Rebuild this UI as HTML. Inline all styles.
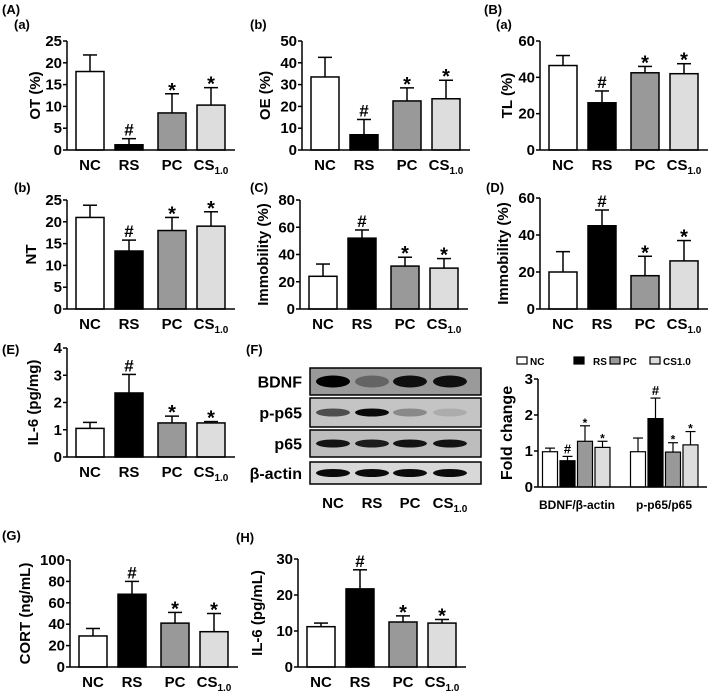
<!DOCTYPE html>
<html><head><meta charset="utf-8"><style>
body{margin:0;background:#fff}
svg text{font-family:"Liberation Sans",Arial,sans-serif;font-weight:bold;fill:#000}
</style></head><body>
<svg id="fig" width="708" height="694" viewBox="0 0 708 694" xmlns="http://www.w3.org/2000/svg">
<g font-size="13">
<text x="2" y="14">(A)</text><text x="14" y="29">(a)</text>
<text x="250" y="29">(b)</text>
<text x="484" y="14">(B)</text><text x="496" y="29">(a)</text>
<text x="14" y="192">(b)</text><text x="250" y="192">(C)</text><text x="486" y="192">(D)</text>
<text x="2" y="354">(E)</text><text x="246" y="354">(F)</text>
<text x="2" y="540">(G)</text><text x="236" y="542">(H)</text>
</g>
<g id="blot"></g>
</svg>
<script>
const groups=["NC","RS","PC","CS"];
const otMean=[18,1.2,8.5,10.3], otErr=[3.8,1.4,4.4,4];
const oeMean=[33.5,7,22.5,23.5], oeErr=[9,7,6,8.5];
const tlMean=[46.5,26,42.5,42], tlErr=[5.5,6.5,3.5,5.5];
const ntMean=[21,13.3,18,19], ntErr=[2.8,2.5,3,3.3];
const fstMean=[24,52,31.5,30], fstErr=[9,6,6.5,7];
const tstMean=[20,45,18,26], tstErr=[11,8.5,10.5,11];
const il6Mean=[1.05,2.35,1.25,1.25], il6Err=[0.22,0.68,0.25,0.05];
const bdnfMean=[0.98,0.73,1.27,1.1], bdnfErr=[0.1,0.12,0.43,0.17];
const pp65Mean=[0.98,1.9,0.97,1.17], pp65Err=[0.38,0.57,0.26,0.37];
const cortMean=[29,68,41,33], cortErr=[7,12,10,17];
const il6sMean=[11.2,21.7,12.5,12.2], il6sErr=[1,5.3,1.7,1];
const marks=["","#","*","*"];
const fills=["#fff","#000","#999","#ddd"];
const NS="http://www.w3.org/2000/svg";
const svg=document.getElementById('fig');
function mk(tag,attrs,parent,txt){const e=document.createElementNS(NS,tag);for(const k in attrs)e.setAttribute(k,attrs[k]);if(txt!==undefined)e.textContent=txt;(parent||svg).appendChild(e);return e;}
function cat(g,x,y,c){
  const t=mk('text',{x:x,y:y,'text-anchor':'middle','font-size':15},g);
  if(c==="CS"){t.textContent="CS";mk('tspan',{dy:4,'font-size':10},t,"1.0");}
  else t.textContent=c;
  
  
}
function panel(name,x0,y0,yTop,max,step,title,means,errs,titleX){
  const g=mk('g',{});
  
  
  const ys=v=>y0-(v/max)*(y0-yTop);
  const offs=[23,62,105,144];const w=28;
  for(let i=0;i<4;i++){
    const cx=x0+offs[i];const top=ys(means[i]);const et=ys(means[i]+errs[i]);
    mk('line',{x1:cx,x2:cx,y1:top,y2:et,stroke:'#000','stroke-width':1.5},g);
    mk('line',{x1:cx-7,x2:cx+7,y1:et,y2:et,stroke:'#000','stroke-width':1.5},g);
    const r=mk('rect',{x:cx-w/2,y:top,width:w,height:y0-top,fill:fills[i],stroke:'#000','stroke-width':1.5},g);
    
    
    if(marks[i]){const m=mk('text',{x:cx,y:et-3+(marks[i]==='*'?6:0),'text-anchor':'middle','font-size':marks[i]==='*'?20:17,'font-weight':'normal'},g,marks[i]);
      }
    cat(g,cx,y0+20,groups[i]);
  }
  mk('line',{x1:x0,x2:x0,y1:yTop,y2:y0,stroke:'#000','stroke-width':1.5},g);
  mk('line',{x1:x0,x2:x0+168,y1:y0,y2:y0,stroke:'#000','stroke-width':1.5},g);
  for(let v=0;v<=max+1e-9;v+=step){const y=ys(v);
    mk('line',{x1:x0-4,x2:x0,y1:y,y2:y,stroke:'#000','stroke-width':1.5},g);
    const t=mk('text',{x:x0-5,y:y+5,'text-anchor':'end','font-size':15},g,String(+v.toFixed(2)));
    }
  const ty=(y0+yTop)/2;
  const tt=mk('text',{x:titleX,y:ty,'text-anchor':'middle','font-size':15,transform:`rotate(-90 ${titleX} ${ty})`},g,title);
  
}
panel('ot',67,150,41,25,5,'OT (%)',otMean,otErr,40);
panel('oe',302,150,41,50,10,'OE (%)',oeMean,oeErr,270);
panel('tl',540,150,41,60,20,'TL (%)',tlMean,tlErr,512);
panel('nt',67,309,200,25,5,'NT',ntMean,ntErr,36);
panel('fst',300,309,200,80,20,'Immobility (%)',fstMean,fstErr,268);
panel('tst',540,309,198,60,20,'Immobility (%)',tstMean,tstErr,508);
panel('il6-hippo',67,457,348,4,1,'IL-6 (pg/mg)',il6Mean,il6Err,38);
panel('cort',70,667,560,100,20,'CORT (ng/mL)',cortMean,cortErr,30);
panel('il6-serum',298,667,559,30,10,'IL-6 (pg/mL)',il6sMean,il6sErr,262);

// fold change chart
(function(){
  const g=mk('g',{});
  
  
  const x0=538,y0=487,yTop=379,max=3;
  const ys=v=>y0-(v/max)*(y0-yTop);
  const sets=[[bdnfMean,bdnfErr,550],[pp65Mean,pp65Err,638]];
  sets.forEach((s,gi)=>{
    for(let i=0;i<4;i++){
      const cx=s[2]+i*17.5,top=ys(s[0][i]),et=ys(s[0][i]+s[1][i]);
      mk('line',{x1:cx,x2:cx,y1:top,y2:et,stroke:'#000','stroke-width':1.2},g);
      mk('line',{x1:cx-5,x2:cx+5,y1:et,y2:et,stroke:'#000','stroke-width':1.2},g);
      const r=mk('rect',{x:cx-7.5,y:top,width:15,height:y0-top,fill:fills[i],stroke:'#000','stroke-width':1.2},g);
      
      
      if(marks[i]){mk('text',{x:cx,y:et-3+(marks[i]==='*'?4:0),'text-anchor':'middle','font-size':marks[i]==='*'?12:13,'font-weight':'normal'},g,marks[i]);}
    }
  });
  mk('line',{x1:x0,x2:707,y1:y0,y2:y0,stroke:'#000','stroke-width':1.5},g);
  mk('line',{x1:x0,x2:x0,y1:yTop,y2:y0,stroke:'#000','stroke-width':1.5},g);
  for(let v=0;v<=max;v++){const y=ys(v);
    mk('line',{x1:x0-4,x2:x0,y1:y,y2:y,stroke:'#000','stroke-width':1.5},g);
    mk('text',{x:x0-5,y:y+5,'text-anchor':'end','font-size':15},g,String(v));}
  mk('text',{x:512,y:433,'text-anchor':'middle','font-size':16,transform:'rotate(-90 512 433)'},g,'Fold change');
  mk('text',{x:577,y:509,'text-anchor':'middle','font-size':12},g,'BDNF/β-actin');
  mk('text',{x:664,y:509,'text-anchor':'middle','font-size':12},g,'p-p65/p65');
  const lx=[517,574,610,650],ln=["NC","RS","PC","CS1.0"],tx=[530,593,623,663];
  for(let i=0;i<4;i++){
    const r=mk('rect',{x:lx[i],y:357,width:10,height:7,fill:fills[i],stroke:'#000','stroke-width':1.2},g);
    
    const t=mk('text',{x:tx[i],y:365,'font-size':10},g,ln[i]);
    
  }
})();

// western blot
(function(){
  const g=document.getElementById('blot');
  const rows=[["BDNF",368,395,[1,0.35,0.9,0.9],'#9a9a9a'],["p-p65",398,427,[0.6,0.95,0.3,0.12],'#c4c4c4'],["p65",430,457,[0.9,0.85,0.9,0.9],'#bdbdbd'],["β-actin",462,484,[0.95,0.95,0.95,0.95],'#d8d8d8']];
  const lanes=[333,372,410,450];
  rows.forEach(r=>{
    const box=mk('rect',{x:310,y:r[1],width:171,height:r[2]-r[1],fill:r[4],stroke:'#000','stroke-width':1.5},g);
    
    const cy=(r[1]+r[2])/2;
    lanes.forEach((lx,i)=>{const a=r[3][i];
      mk('ellipse',{cx:lx,cy:cy,rx:17,ry:r[0]==="BDNF"?6:4,fill:'#000','fill-opacity':a},g);});
    mk('text',{x:302,y:cy+6,'text-anchor':'end','font-size':16},g,r[0]);
  });
  lanes.forEach((lx,i)=>cat(g,lx,508,groups[i]));
})();
</script>
</body></html>
